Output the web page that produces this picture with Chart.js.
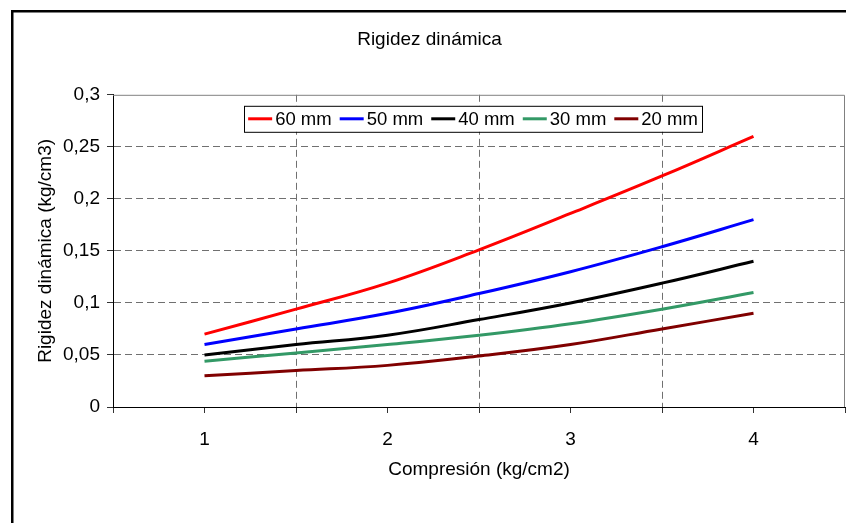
<!DOCTYPE html>
<html lang="es">
<head>
    <meta charset="UTF-8">
    <title>Rigidez dinámica</title>
    <script src="https://cdn.jsdelivr.net/npm/chart.js"></script>
    <style>
        body { margin: 0; background: white; }
        #wrap { width: 846px; height: 523px; }
    </style>
</head>
<body>
<div id="wrap"><canvas id="myChart" width="846" height="523"></canvas></div>
<script>
    // compresion (kg/cm2)
    var compresion = [1, 1.5, 2, 2.5, 3, 3.5, 4];
    var seriesNames = ['60 mm', '50 mm', '40 mm', '30 mm', '20 mm'];
    // rigidez dinamica (kg/cm3)
    var r60 = [0.070, 0.094, 0.119, 0.151, 0.186, 0.222, 0.260];
    var r50 = [0.060, 0.075, 0.090, 0.109, 0.130, 0.154, 0.180];
    var r40 = [0.050, 0.060, 0.069, 0.084, 0.100, 0.119, 0.140];
    var r30 = [0.044, 0.052, 0.060, 0.069, 0.080, 0.094, 0.110];
    var r20 = [0.030, 0.035, 0.040, 0.049, 0.060, 0.075, 0.090];
    var xTickLabels = ['1', '2', '3', '4'];

    var colors = ['#ff0000', '#0000ff', '#000000', '#339966', '#800000'];
    var series = [r60, r50, r40, r30, r20];

    Chart.defaults.font.family = "'Liberation Sans', Arial, sans-serif";
    Chart.defaults.font.size = 19;
    Chart.defaults.color = '#000';

    var datasets = series.map(function (vals, i) {
        return {
            label: seriesNames[i],
            data: vals.map(function (v, j) { return { x: compresion[j], y: v }; }),
            borderColor: colors[i],
            backgroundColor: colors[i],
            borderWidth: 3,
            pointRadius: 0,
            tension: 0.4,
            fill: false
        };
    });

    // frame, outer border and boxed legend like the excel chart
    var extras = {
        id: 'extras',
        afterDraw: function (chart) {
            var ctx = chart.ctx;
            var a = chart.chartArea;
            ctx.save();
            ctx.strokeStyle = '#808080';
            ctx.lineWidth = 1;
            ctx.beginPath();
            ctx.moveTo(a.left, a.top + 0.5);
            ctx.lineTo(a.right - 0.5, a.top + 0.5);
            ctx.lineTo(a.right - 0.5, a.bottom);
            ctx.stroke();

            ctx.fillStyle = '#000';
            ctx.fillRect(11, 10, 2.5, chart.height - 10);
            ctx.fillRect(11, 10, chart.width - 11, 2.5);

            // legend
            ctx.font = "18.5px 'Liberation Sans', Arial, sans-serif";
            var ds = chart.data.datasets;
            var total = 8;
            var widths = ds.map(function (d) { return ctx.measureText(d.label).width; });
            widths.forEach(function (w, i) { total += 27 + w + (i < ds.length - 1 ? 8 : 0); });
            var x0 = (a.left + a.right) / 2 - 6 - total / 2;
            var y0 = a.top + 11;
            var h = 26;
            ctx.fillStyle = '#fff';
            ctx.fillRect(x0, y0, total, h);
            ctx.strokeStyle = '#000';
            ctx.lineWidth = 1;
            ctx.strokeRect(Math.round(x0) + 0.5, y0 + 0.5, Math.round(total), h);
            var x = x0 + 4;
            ctx.textBaseline = 'middle';
            ds.forEach(function (d, i) {
                ctx.strokeStyle = d.borderColor;
                ctx.lineWidth = 3;
                ctx.beginPath();
                ctx.moveTo(x, y0 + h / 2);
                ctx.lineTo(x + 24, y0 + h / 2);
                ctx.stroke();
                ctx.fillStyle = '#000';
                ctx.fillText(d.label, x + 27, y0 + h / 2 + 1);
                x += 27 + widths[i] + 8;
            });
            ctx.restore();
        }
    };

    var ctx = document.getElementById('myChart').getContext('2d');
    var myChart = new Chart(ctx, {
        type: 'line',
        data: { datasets: datasets },
        options: {
            responsive: false,
            animation: false,
            layout: { padding: { left: 14, right: 1, top: 0, bottom: 0 } },
            plugins: {
                legend: { display: false },
                tooltip: { enabled: false },
                title: {
                    display: true,
                    text: 'Rigidez dinámica',
                    font: { size: 19, weight: 'normal' },
                    color: '#000',
                    padding: { top: 28, bottom: 44 }
                }
            },
            scales: {
                x: {
                    type: 'linear',
                    min: 0.5,
                    max: 4.5,
                    afterFit: function (s) {
                        s.height = 116;
                        s.paddingLeft = 0;
                        s.paddingRight = 0;
                    },
                    ticks: {
                        stepSize: 0.5,
                        autoSkip: false,
                        maxRotation: 0,
                        padding: 15,
                        callback: function (v) {
                            var i = xTickLabels.indexOf(String(v));
                            return i >= 0 ? xTickLabels[i] : '';
                        }
                    },
                    grid: {
                        color: function (c) {
                            var v = c.tick ? c.tick.value : 0;
                            return (v === 1.5 || v === 2.5 || v === 3.5) ? '#707070' : 'rgba(0,0,0,0)';
                        },
                        tickColor: '#333',
                        tickLength: 6,
                        lineWidth: 1
                    },
                    border: { color: '#000', width: 1, dash: [7, 4] },
                    title: {
                        display: true,
                        text: 'Compresión (kg/cm2)',
                        font: { size: 19 },
                        color: '#000',
                        padding: { top: 4, bottom: 42 }
                    }
                },
                y: {
                    min: 0,
                    max: 0.3,
                    afterFit: function (s) { s.width = 99; },
                    ticks: {
                        stepSize: 0.05,
                        padding: 7,
                        callback: function (v) {
                            return String(Math.round(v * 100) / 100).replace('.', ',');
                        }
                    },
                    grid: {
                        color: function (c) {
                            var v = c.tick ? Math.round(c.tick.value * 100) : 0;
                            return (v > 0 && v < 30) ? '#707070' : 'rgba(0,0,0,0)';
                        },
                        tickColor: '#333',
                        tickLength: 6,
                        lineWidth: 1
                    },
                    border: { color: '#000', width: 1, dash: [7, 4] },
                    title: {
                        display: true,
                        text: 'Rigidez dinámica (kg/cm3)',
                        font: { size: 19 },
                        color: '#000',
                        padding: { top: 20, bottom: 4 }
                    }
                }
            }
        },
        plugins: [extras]
    });
</script>
</body>
</html>
